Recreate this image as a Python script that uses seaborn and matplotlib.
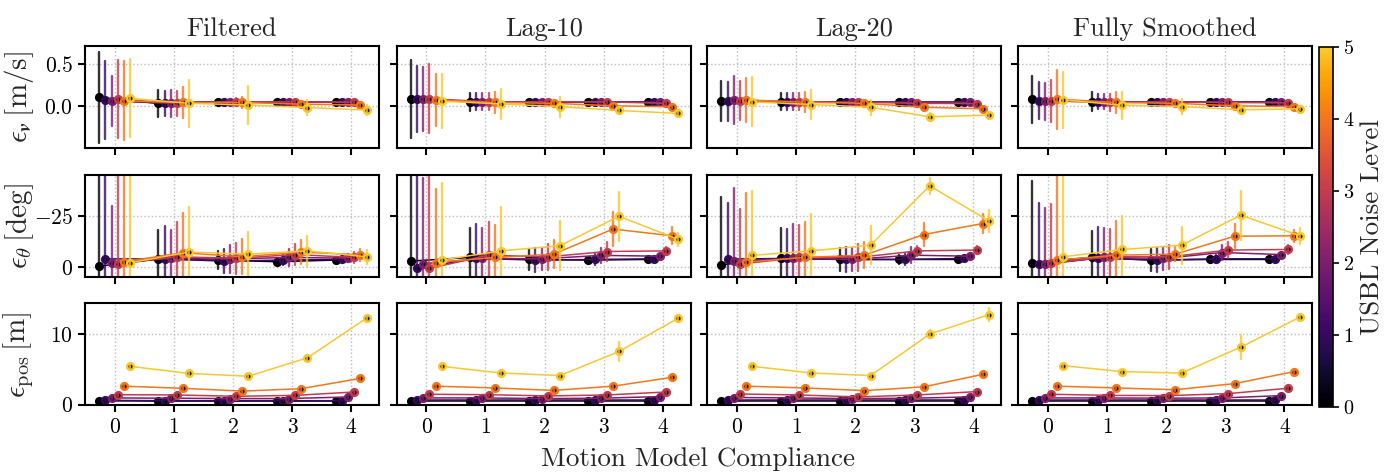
import numpy as np
import pandas as pd
import matplotlib
matplotlib.use("Agg")
import matplotlib.pyplot as plt
import seaborn as sns
from matplotlib.colors import ListedColormap, Normalize
from matplotlib.cm import ScalarMappable

# ---------------- data ----------------
COMPLIANCE = [0, 1, 2, 3, 4]
NOISE = [0, 1, 2, 3, 4, 5]
METHODS = ["Filtered", "Lag-10", "Lag-20", "Fully Smoothed"]
METRICS = ["vel", "theta", "pos"]
YLABELS = [r"$\epsilon_{\boldsymbol{v}}\,[\mathrm{m/s}]$",
           r"$\epsilon_{\theta}\,[\mathrm{deg}]$",
           r"$\epsilon_{\mathrm{pos}}\,[\mathrm{m}]$"]
XLABEL = "Motion Model Compliance"
CBAR_LABEL = "USBL Noise Level"

# rows: noise level 0..5 ; columns: compliance 0..4
FILT_VEL_MEAN = [[0.10, 0.03, 0.05, 0.045, 0.045],
                 [0.07, 0.03, 0.05, 0.045, 0.045],
                 [0.06, 0.03, 0.05, 0.045, 0.045],
                 [0.08, 0.03, 0.05, 0.045, 0.045],
                 [0.06, 0.04, 0.04, 0.02, 0.01],
                 [0.09, 0.03, 0.01, -0.02, -0.05]]
FILT_VEL_ERR = [[0.54, 0.16, 0.03, 0.02, 0.02],
                [0.46, 0.15, 0.03, 0.02, 0.02],
                [0.30, 0.16, 0.03, 0.02, 0.02],
                [0.46, 0.15, 0.04, 0.02, 0.02],
                [0.47, 0.18, 0.06, 0.04, 0.03],
                [0.46, 0.28, 0.22, 0.09, 0.06]]
FILT_THETA_MEAN = [[-0.3, -3.8, -3.3, -2.5, -3.3],
                   [-3.9, -3.8, -2.8, -3.3, -3.6],
                   [-2.0, -4.1, -3.8, -4.6, -4.2],
                   [-1.6, -4.9, -4.2, -6.0, -4.6],
                   [-2.5, -6.9, -4.9, -7.2, -5.9],
                   [-2.0, -7.2, -6.2, -7.8, -4.9]]
FILT_THETA_ERR = [[60, 14, 4.3, 2.0, 1.0],
                  [55, 16.3, 6.0, 2.5, 1.5],
                  [28, 14, 7.0, 4.0, 2.0],
                  [55, 17.2, 7.5, 5.0, 2.5],
                  [55, 19.6, 8.5, 6.0, 3.0],
                  [55, 22.2, 11, 7.5, 3.5]]
FILT_POS_MEAN = [[0.55, 0.5, 0.5, 0.5, 0.5],
                 [0.6, 0.55, 0.55, 0.55, 0.55],
                 [0.94, 0.9, 0.85, 0.85, 1.08],
                 [1.4, 1.36, 1.17, 1.3, 1.78],
                 [2.6, 2.3, 1.9, 2.25, 3.7],
                 [5.4, 4.4, 4.0, 6.6, 12.2]]
FILT_POS_ERR = [[0.1, 0.1, 0.1, 0.1, 0.1],
                [0.1, 0.1, 0.1, 0.1, 0.1],
                [0.15, 0.15, 0.15, 0.15, 0.15],
                [0.2, 0.2, 0.2, 0.2, 0.2],
                [0.25, 0.2, 0.2, 0.3, 0.3],
                [0.3, 0.3, 0.3, 0.4, 0.3]]

LAG10_VEL_MEAN = [[0.08, 0.047, 0.047, 0.047, 0.043],
                  [0.08, 0.047, 0.047, 0.047, 0.043],
                  [0.08, 0.047, 0.047, 0.047, 0.043],
                  [0.086, 0.047, 0.047, 0.047, 0.03],
                  [0.07, 0.04, 0.03, 0.0, -0.01],
                  [0.055, 0.023, -0.01, -0.055, -0.09]]
LAG10_VEL_ERR = [[0.46, 0.11, 0.02, 0.015, 0.015],
                 [0.39, 0.10, 0.02, 0.015, 0.015],
                 [0.38, 0.10, 0.02, 0.015, 0.015],
                 [0.41, 0.10, 0.02, 0.015, 0.02],
                 [0.31, 0.12, 0.04, 0.03, 0.02],
                 [0.32, 0.18, 0.12, 0.04, 0.02]]
LAG10_THETA_MEAN = [[-2.8, -4.6, -3.6, -3.3, -3.6],
                    [0.8, -4.1, -3.3, -3.6, -3.9],
                    [-1.5, -4.1, -3.9, -5.6, -5.2],
                    [0.8, -5.7, -4.9, -7.5, -7.8],
                    [-2.1, -4.6, -6.2, -18.5, -15.2],
                    [-3.3, -7.8, -10.3, -24.8, -13.4]]
LAG10_THETA_ERR = [[55, 14.5, 5.0, 1.5, 1.0],
                   [55, 16.7, 5.7, 2.8, 1.0],
                   [42, 15, 5.5, 3.7, 1.5],
                   [55, 16.3, 6.5, 4.5, 2.0],
                   [36, 15.8, 7.0, 8.2, 4.2],
                   [38, 21.6, 12, 12, 3.3]]
LAG10_POS_MEAN = [[0.55, 0.55, 0.55, 0.55, 0.55],
                  [0.6, 0.6, 0.6, 0.6, 0.6],
                  [0.94, 0.94, 0.85, 0.9, 1.13],
                  [1.46, 1.4, 1.22, 1.36, 1.78],
                  [2.6, 2.35, 2.0, 2.6, 3.85],
                  [5.4, 4.46, 4.1, 7.5, 12.2]]
LAG10_POS_ERR = [[0.1, 0.1, 0.1, 0.1, 0.1],
                 [0.1, 0.1, 0.1, 0.1, 0.1],
                 [0.15, 0.15, 0.15, 0.15, 0.15],
                 [0.2, 0.2, 0.2, 0.2, 0.2],
                 [0.25, 0.2, 0.2, 0.3, 0.3],
                 [0.3, 0.3, 0.3, 1.3, 0.5]]

LAG20_VEL_MEAN = [[0.06, 0.047, 0.043, 0.043, 0.043],
                  [0.055, 0.047, 0.043, 0.043, 0.043],
                  [0.07, 0.047, 0.043, 0.043, 0.043],
                  [0.06, 0.047, 0.043, 0.03, 0.027],
                  [0.07, 0.043, 0.03, -0.016, -0.035],
                  [0.047, 0.016, -0.016, -0.13, -0.11]]
LAG20_VEL_ERR = [[0.24, 0.10, 0.02, 0.015, 0.015],
                 [0.23, 0.10, 0.02, 0.015, 0.015],
                 [0.29, 0.10, 0.02, 0.015, 0.015],
                 [0.23, 0.10, 0.02, 0.02, 0.015],
                 [0.26, 0.12, 0.03, 0.03, 0.02],
                 [0.29, 0.17, 0.09, 0.045, 0.02]]
LAG20_THETA_MEAN = [[-1.0, -4.2, -3.6, -3.6, -3.6],
                    [-3.8, -4.1, -3.6, -3.6, -4.1],
                    [-2.8, -4.2, -3.6, -5.7, -5.2],
                    [-1.3, -4.6, -4.6, -7.8, -8.2],
                    [-2.3, -4.6, -5.7, -15.8, -21.2],
                    [-5.6, -7.8, -10.6, -39.7, -22.5]]
LAG20_THETA_ERR = [[33, 14.6, 5.5, 2.0, 1.0],
                   [27.6, 14.4, 6.0, 2.6, 1.0],
                   [36, 17, 5.5, 4.0, 1.5],
                   [27, 15.8, 6.5, 2.5, 1.8],
                   [34, 17.4, 6.5, 5.7, 4.6],
                   [31.7, 18.3, 9.2, 3.8, 5.3]]
LAG20_POS_MEAN = [[0.55, 0.55, 0.55, 0.55, 0.55],
                  [0.6, 0.6, 0.6, 0.6, 0.6],
                  [1.0, 0.94, 0.85, 0.9, 1.08],
                  [1.5, 1.36, 1.08, 1.36, 1.83],
                  [2.6, 2.35, 1.97, 2.5, 4.27],
                  [5.4, 4.46, 4.1, 9.95, 12.7]]
LAG20_POS_ERR = [[0.1, 0.1, 0.1, 0.1, 0.1],
                 [0.1, 0.1, 0.1, 0.1, 0.1],
                 [0.15, 0.15, 0.15, 0.15, 0.15],
                 [0.2, 0.2, 0.2, 0.2, 0.2],
                 [0.25, 0.2, 0.2, 0.3, 0.3],
                 [0.3, 0.3, 0.3, 0.6, 0.9]]

FS_VEL_MEAN = [[0.08, 0.05, 0.047, 0.047, 0.047],
               [0.06, 0.05, 0.047, 0.047, 0.047],
               [0.055, 0.05, 0.047, 0.047, 0.047],
               [0.06, 0.043, 0.047, 0.04, 0.035],
               [0.08, 0.04, 0.03, 0.0, -0.008],
               [0.07, 0.008, -0.008, -0.047, -0.035]]
FS_VEL_ERR = [[0.28, 0.11, 0.02, 0.015, 0.015],
              [0.22, 0.09, 0.02, 0.015, 0.015],
              [0.22, 0.09, 0.02, 0.015, 0.015],
              [0.25, 0.10, 0.02, 0.015, 0.015],
              [0.35, 0.13, 0.04, 0.03, 0.02],
              [0.33, 0.16, 0.09, 0.055, 0.02]]
FS_THETA_MEAN = [[-2.1, -4.6, -3.3, -3.6, -3.6],
                 [-1.3, -4.2, -3.3, -3.9, -3.9],
                 [-1.3, -4.6, -4.1, -7.0, -6.0],
                 [-2.1, -4.9, -4.9, -8.2, -8.5],
                 [-3.3, -5.7, -6.2, -15.0, -15.2],
                 [-4.9, -8.5, -10.6, -25.3, -15.2]]
FS_THETA_ERR = [[40, 12.9, 5.5, 1.5, 1.0],
                [29.8, 15.4, 5.7, 2.0, 1.0],
                [27.3, 14.5, 5.8, 3.5, 1.5],
                [28.6, 13.4, 6.0, 4.0, 2.0],
                [55, 16.7, 3.5, 6.0, 3.0],
                [55, 16.5, 9.0, 12, 4.0]]
FS_POS_MEAN = [[0.55, 0.55, 0.55, 0.55, 0.55],
               [0.6, 0.6, 0.6, 0.6, 0.6],
               [0.94, 0.94, 0.9, 0.94, 1.27],
               [1.46, 1.3, 1.27, 1.55, 2.3],
               [2.6, 2.35, 2.1, 2.96, 4.65],
               [5.5, 4.65, 4.46, 8.1, 12.35]]
FS_POS_ERR = [[0.1, 0.1, 0.1, 0.1, 0.1],
              [0.1, 0.1, 0.1, 0.1, 0.1],
              [0.15, 0.15, 0.15, 0.15, 0.15],
              [0.2, 0.2, 0.2, 0.2, 0.2],
              [0.25, 0.2, 0.2, 0.3, 0.3],
              [0.3, 0.3, 0.3, 1.7, 0.5]]

PANELS = {
    ("Filtered", "vel"): (FILT_VEL_MEAN, FILT_VEL_ERR),
    ("Filtered", "theta"): (FILT_THETA_MEAN, FILT_THETA_ERR),
    ("Filtered", "pos"): (FILT_POS_MEAN, FILT_POS_ERR),
    ("Lag-10", "vel"): (LAG10_VEL_MEAN, LAG10_VEL_ERR),
    ("Lag-10", "theta"): (LAG10_THETA_MEAN, LAG10_THETA_ERR),
    ("Lag-10", "pos"): (LAG10_POS_MEAN, LAG10_POS_ERR),
    ("Lag-20", "vel"): (LAG20_VEL_MEAN, LAG20_VEL_ERR),
    ("Lag-20", "theta"): (LAG20_THETA_MEAN, LAG20_THETA_ERR),
    ("Lag-20", "pos"): (LAG20_POS_MEAN, LAG20_POS_ERR),
    ("Fully Smoothed", "vel"): (FS_VEL_MEAN, FS_VEL_ERR),
    ("Fully Smoothed", "theta"): (FS_THETA_MEAN, FS_THETA_ERR),
    ("Fully Smoothed", "pos"): (FS_POS_MEAN, FS_POS_ERR),
}

# ---------------- style ----------------
sns.set_style("ticks")
plt.rcParams.update({
    "font.family": "serif",
    "font.serif": ["cmr10"],
    "mathtext.fontset": "cm",
    "axes.formatter.use_mathtext": True,
    "axes.linewidth": 1.5,
    "axes.edgecolor": "black",
    "xtick.major.width": 1.5,
    "ytick.major.width": 1.5,
    "xtick.major.size": 5,
    "ytick.major.size": 5,
    "xtick.color": "black",
    "ytick.color": "black",
    "xtick.labelsize": 15.5,
    "ytick.labelsize": 15.5,
})

cmap = ListedColormap(plt.get_cmap("inferno")(np.linspace(0, 0.87, 256)))
norm = Normalize(0, 5)
palette = {n: cmap(norm(n)) for n in NOISE}

YLIMS = {"vel": (-0.5, 0.71), "theta": (5, -45), "pos": (-0.1, 14.3)}
YTICKS = {"vel": [0.0, 0.5], "theta": [-25, 0], "pos": [0, 10]}

W, H = 1393, 475
fig = plt.figure(figsize=(W / 100, H / 100), dpi=100)
lefts = [85, 396.7, 707.3, 1018.3]
tops = [46, 175, 303.3]
pw, ph = 294, 102


def to_long(mean, err):
    rows = []
    for i, n in enumerate(NOISE):
        for j, c in enumerate(COMPLIANCE):
            m, e = mean[i][j], err[i][j]
            for v in (m - e, m, m + e):
                rows.append({"compliance": c, "noise": n, "value": v})
    return pd.DataFrame(rows)


for ci, method in enumerate(METHODS):
    for ri, metric in enumerate(METRICS):
        ax = fig.add_axes([lefts[ci] / W, 1 - (tops[ri] + ph) / H, pw / W, ph / H])
        mean, err = PANELS[(method, metric)]
        df = to_long(mean, err)
        sns.pointplot(data=df, x="compliance", y="value", hue="noise",
                      order=COMPLIANCE, hue_order=NOISE, palette=palette,
                      estimator="median",
                      errorbar=lambda v: (v.min(), v.max()),
                      dodge=0.52, markers="o", linestyles="-",
                      linewidth=1.1, markersize=4.8, markeredgewidth=1.8,
                      markerfacecolor="black",
                      err_kws={"linewidth": 1.7, "alpha": 0.8},
                      legend=False, ax=ax)
        ax.set_xlim(-0.5, 4.47)
        ax.set_ylim(*YLIMS[metric])
        ax.set_yticks(YTICKS[metric])
        ax.set_xticks(COMPLIANCE)
        ax.grid(True, linestyle=":", color="#bdbdbd", linewidth=1.0)
        ax.set_axisbelow(True)
        ax.set_xlabel("")
        ax.set_ylabel("")
        if ri < 2:
            ax.set_xticklabels([])
        if ci > 0:
            ax.set_yticklabels([])
        else:
            ax.set_ylabel(YLABELS[ri], fontsize=21)
            ax.yaxis.set_label_coords(-0.168, 0.5)
        if ri == 0:
            ax.set_title(method, fontsize=19, pad=7)
        for s in ax.spines.values():
            s.set_visible(True)
            s.set_linewidth(1.5)

fig.text(698.5 / W, 0.008, XLABEL, ha="center", va="bottom", fontsize=19.5)

cax = fig.add_axes([1319 / W, 1 - 406.7 / H, 14 / W, (406.7 - 47) / H])
cb = fig.colorbar(ScalarMappable(norm=norm, cmap=cmap), cax=cax)
cb.set_ticks([0, 1, 2, 3, 4, 5])
cb.ax.tick_params(labelsize=14.5, width=1.2, length=4)
cb.outline.set_linewidth(1.2)
cb.set_label(CBAR_LABEL, fontsize=19.5, labelpad=4)

fig.savefig("out.png", dpi=100)
